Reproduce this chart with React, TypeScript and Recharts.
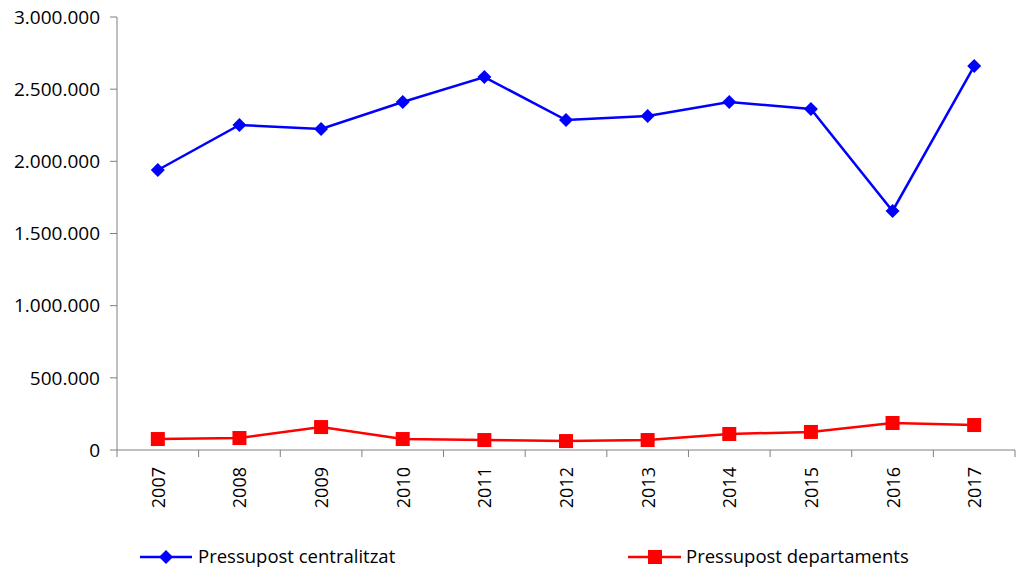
import { LineChart, Line, XAxis, YAxis, Legend } from 'recharts';

const years = ['2007', '2008', '2009', '2010', '2011', '2012', '2013', '2014', '2015', '2016', '2017'];
const centralitzat = [1940000, 2252000, 2224000, 2411000, 2584000, 2286000, 2314000, 2411000, 2363000, 1656000, 2660000];
const departaments = [76000, 83000, 159000, 76000, 69000, 62000, 69000, 111000, 125000, 187000, 173000];
const yTicks = [0, 500000, 1000000, 1500000, 2000000, 2500000, 3000000];

const data = years.map((year, i) => ({
  year,
  centralitzat: centralitzat[i],
  departaments: departaments[i],
}));

const W = 1016;
const H = 571;
const PLOT_LEFT = 117;
const PLOT_RIGHT = 1;
const LEGEND_H = 24;
const STEP = (W - PLOT_LEFT - PLOT_RIGHT) / years.length;
const FONT = '"Open Sans", sans-serif';

const fmt = (v: number) => (v === 0 ? '0' : v.toLocaleString('de-DE'));

const Diamond = (props: any) => {
  const { cx, cy } = props;
  if (cx == null || cy == null) return null;
  const r = 7;
  return <path d={`M${cx},${cy - r}L${cx + r},${cy}L${cx},${cy + r}L${cx - r},${cy}Z`} fill="#0000ff" />;
};

const Square = (props: any) => {
  const { cx, cy } = props;
  if (cx == null || cy == null) return null;
  return <rect x={cx - 7} y={cy - 7} width={14} height={14} fill="#ff0000" />;
};

const YearTick = (props: any) => {
  const { x, y, payload, index } = props;
  const left = x - STEP / 2;
  return (
    <g>
      <line x1={left} y1={y - 8} x2={left} y2={y - 1} stroke="#808080" />
      {index === years.length - 1 && (
        <line x1={x + STEP / 2} y1={y - 8} x2={x + STEP / 2} y2={y - 1} stroke="#808080" />
      )}
      <text
        x={0}
        y={0}
        transform={`translate(${x + 7},${y + 9}) rotate(-90)`}
        textAnchor="end"
        fontSize={18}
        fontFamily={FONT}
        fill="#000"
      >
        {payload.value}
      </text>
    </g>
  );
};

const renderLegend = () => (
  <div style={{ position: 'relative', height: LEGEND_H, fontFamily: FONT, fontSize: 18.5, color: '#000' }}>
    <svg width={W} height={LEGEND_H} style={{ position: 'absolute', left: 0, top: 0 }}>
      <line x1={140} y1={12} x2={192} y2={12} stroke="#0000ff" strokeWidth={2.5} />
      <path d="M166,5L173,12L166,19L159,12Z" fill="#0000ff" />
      <line x1={628} y1={12} x2={681} y2={12} stroke="#ff0000" strokeWidth={2.5} />
      <rect x={648} y={5} width={14} height={14} fill="#ff0000" />
    </svg>
    <span style={{ position: 'absolute', left: 198, top: -2, lineHeight: '26px' }}>Pressupost centralitzat</span>
    <span style={{ position: 'absolute', left: 686, top: -2, lineHeight: '26px' }}>Pressupost departaments</span>
  </div>
);

export default function App() {
  return (
    <div style={{ position: 'absolute', left: 0, top: 0, width: W, height: H, background: '#fff' }}>
      <LineChart width={W} height={H} data={data} margin={{ top: 17, right: PLOT_RIGHT, left: 0, bottom: 0 }}>
        <XAxis
          dataKey="year"
          scale="band"
          axisLine={{ stroke: '#808080' }}
          tickLine={false}
          tick={<YearTick />}
          height={H - 17 - 433 - LEGEND_H}
          interval={0}
        />
        <YAxis
          width={PLOT_LEFT}
          domain={[0, 3000000]}
          ticks={yTicks}
          tickFormatter={fmt}
          axisLine={{ stroke: '#808080' }}
          tickLine={{ stroke: '#808080' }}
          tickSize={7}
          tickMargin={10}
          tick={{ fontSize: 19, fontFamily: FONT, fill: '#000' }}
          interval={0}
        />
        <Legend
          content={renderLegend}
          wrapperStyle={{ left: 0, top: 545, width: W, height: LEGEND_H }}
        />
        <Line
          type="linear"
          dataKey="centralitzat"
          stroke="#0000ff"
          strokeWidth={2.5}
          dot={<Diamond />}
          activeDot={false}
          isAnimationActive={false}
        />
        <Line
          type="linear"
          dataKey="departaments"
          stroke="#ff0000"
          strokeWidth={2.5}
          dot={<Square />}
          activeDot={false}
          isAnimationActive={false}
        />
      </LineChart>
    </div>
  );
}
